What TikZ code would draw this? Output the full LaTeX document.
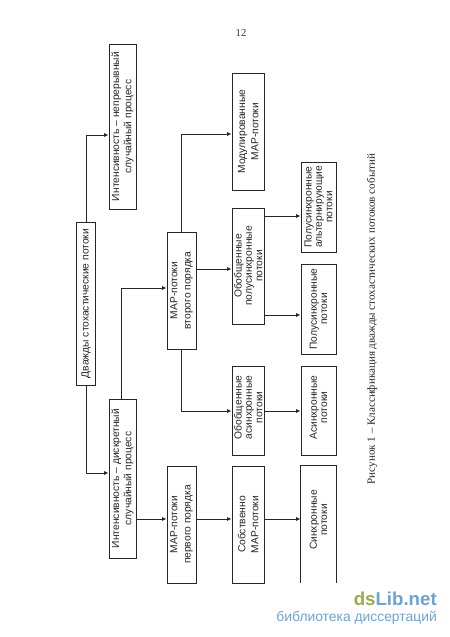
\documentclass[tikz,border=0pt]{standalone}
\usepackage{fontspec}
\setmainfont{Liberation Serif}
\setsansfont{Liberation Sans}
\usetikzlibrary{arrows.meta}
\definecolor{dsgreen}{HTML}{9AAB4E}
\definecolor{dsblue}{HTML}{6FA3CF}
\tikzset{
  x=0.75pt,y=-0.75pt,
  flow/.style={rotate=90,draw=black!85,line width=0.75pt,align=center,inner sep=0pt,text=black!85,font=\sffamily\fontsize{7.7}{9.3}\selectfont},
  wide/.style={font=\sffamily\fontsize{7.7}{9.8}\selectfont},
  tight/.style={font=\sffamily\fontsize{7.7}{7.8}\selectfont},
  openflow/.style={flow,draw=none},
  edgeline/.style={draw=black!85,line width=0.7pt},
  arr/.style={edgeline,-{Latex[length=3.2pt,width=3pt]}},
}
\begin{document}
\begin{tikzpicture}
\useasboundingbox (0,0) rectangle (450,637);
\fill[white] (0,0) rectangle (450,637);
\node[font=\fontsize{8}{9}\selectfont,text=black!80] (pg) at (241,33) {12};
\node[flow,minimum width=163pt*0.75,minimum height=18.5pt*0.75] (root) at (86,303.5) {Дважды стохастические потоки};
\node[flow,minimum width=165pt*0.75,minimum height=27pt*0.75] (cont) at (122.5,126.5) {Интенсивность – непрерывный\\случайный процесс};
\node[flow,minimum width=159pt*0.75,minimum height=27pt*0.75] (disc) at (122.5,478.5) {Интенсивность – дискретный\\случайный процесс};
\node[flow,wide,minimum width=117pt*0.75,minimum height=29pt*0.75] (mapii) at (181.5,290.5) {MAP-потоки\\второго порядка};
\node[flow,wide,minimum width=117pt*0.75,minimum height=29pt*0.75] (mapi) at (181.5,524.5) {MAP-потоки\\первого порядка};
\node[flow,wide,minimum width=117pt*0.75,minimum height=32.5pt*0.75] (own) at (248.25,524.5) {Собственно\\MAP-потоки};
\node[flow,wide,minimum width=117pt*0.75,minimum height=32.5pt*0.75] (mod) at (248.25,131.5) {Модулированные\\MAP-потоки};
\node[flow,tight,minimum width=116pt*0.75,minimum height=32.5pt*0.75] (gsemi) at (248.25,266) {Обобщенные\\полусинхронные\\потоки};
\node[flow,minimum width=89pt*0.75,minimum height=32.5pt*0.75] (gasync) at (248.25,410.5) {};
\node[rotate=90,align=center,inner sep=0pt,text=black!85,tight] (gasynct) at (248.25,407.5) {Обобщенные\\асинхронные\\потоки};
\node[flow,tight,minimum width=90pt*0.75,minimum height=35pt*0.75] (alt) at (318.5,207) {Полусинхронные\\альтернирующие\\потоки};
\node[flow,tight,minimum width=90pt*0.75,minimum height=35pt*0.75] (semi) at (318.5,309) {Полусинхронные\\потоки};
\node[flow,minimum width=89pt*0.75,minimum height=35pt*0.75] (async) at (318.5,410.5) {};
\node[rotate=90,align=center,inner sep=0pt,text=black!85,tight] (asynct) at (318.5,407.5) {Асинхронные\\потоки};
\node[openflow,minimum width=116pt*0.75,minimum height=35pt*0.75] (sync) at (318.5,524) {};
\node[rotate=90,align=center,inner sep=0pt,text=black!85,tight] (synct) at (318.5,520) {Синхронные\\потоки};
\draw[edgeline] (sync.south west) -- (sync.south east) -- (sync.north east) -- (sync.north west);
\node[rotate=90,font=\fontsize{8.3}{9}\selectfont,text=black!85] (cap) at (372,319) {Рисунок 1 – Классификация дважды стохастических потоков событий};
\node[anchor=east,inner sep=0pt,font=\sffamily\bfseries\fontsize{14}{16}\selectfont] (wm) at (437,598.5) {\textcolor{dsgreen}{ds}\textcolor{dsblue}{Lib.net}};
\node[anchor=east,inner sep=0pt,font=\sffamily\fontsize{10.4}{11}\selectfont,text=dsblue] (wmb) at (437,617.5) {библиотека диссертаций};
\coordinate (a1) at (86,135);
\coordinate (a2) at (86,473);
\coordinate (a3) at (121,288);
\coordinate (a4) at (181,134);
\coordinate (a5) at (181,411);
\coordinate (b1) at (150,519);
\coordinate (b2) at (200,269);
\coordinate (b3) at (280,216);
\coordinate (b4) at (280,315);
\coordinate (b5) at (280,411);
\draw[arr] (root.east) -- (a1) -- (cont.north |- a1);
\draw[arr] (root.west) -- (a2) -- (disc.north |- a2);
\draw[arr] (a3 |- disc.east) -- (a3) -- (mapii.north |- a3);
\draw[arr] (a4 |- mapii.east) -- (a4) -- (mod.north |- a4);
\draw[arr] (a5 |- mapii.west) -- (a5) -- (gasync.north |- a5);
\draw[arr] (disc.south |- b1) -- (mapi.north |- b1);
\draw[arr] (mapi.south |- b1) -- (own.north |- b1);
\draw[arr] (own.south |- b1) -- (sync.north |- b1);
\draw[arr] (mapii.south |- b2) -- (gsemi.north |- b2);
\draw[arr] (gsemi.south |- b3) -- (alt.north |- b3);
\draw[arr] (gsemi.south |- b4) -- (semi.north |- b4);
\draw[arr] (gasync.south |- b5) -- (async.north |- b5);
\end{tikzpicture}
\end{document}
